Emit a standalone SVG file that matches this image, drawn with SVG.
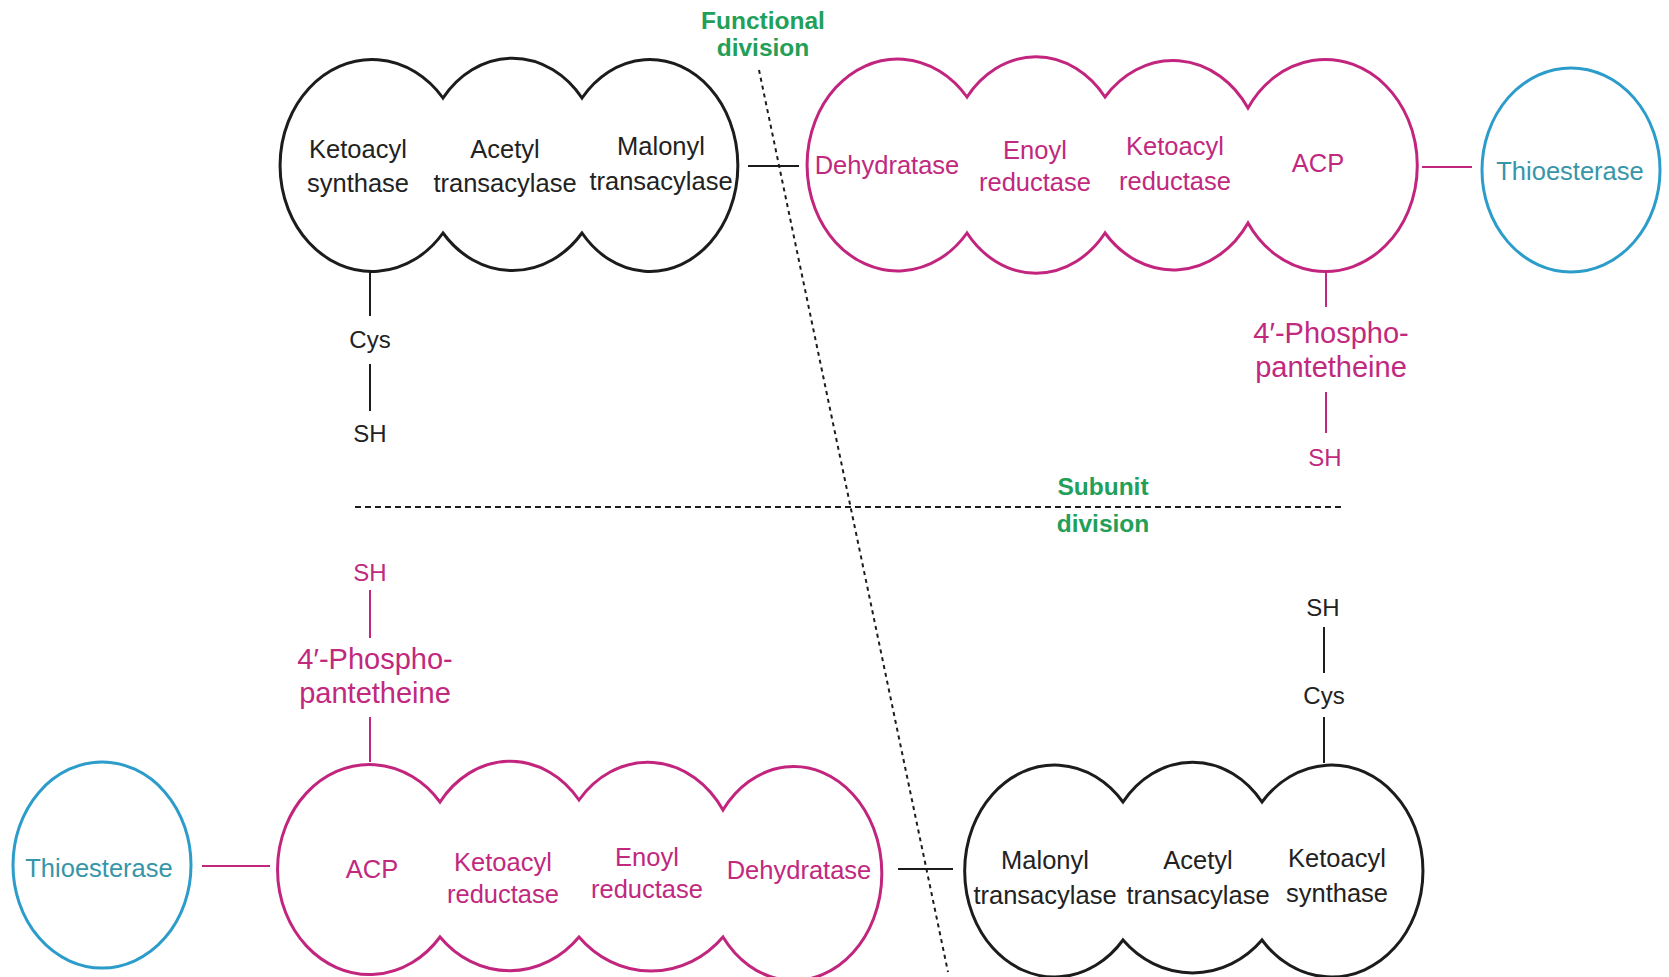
<svg xmlns="http://www.w3.org/2000/svg" width="1669" height="977" viewBox="0 0 1669 977">
<style>
text{font-family:"Liberation Sans",Arial,sans-serif;text-anchor:middle}
.lbl{font-size:25.5px}
.sm{font-size:24px}
.big{font-size:29px}
.grn{font-size:24.5px;font-weight:bold;fill:#22a05a}
.k{fill:#222222}
.p{fill:#c0297e}
.b{fill:#3795a9}
.blobk{fill:none;stroke:#1c1c1c;stroke-width:3}
.blobp{fill:none;stroke:#c2257d;stroke-width:3}
.thio{fill:none;stroke:#2c9ccb;stroke-width:3}
.ck{stroke:#1c1c1c;stroke-width:2;fill:none}
.cp{stroke:#c2257d;stroke-width:2;fill:none}
.dash{stroke:#1c1c1c;stroke-width:2;fill:none}
</style>
<rect width="1669" height="977" fill="#ffffff"/>

<g id="divisions">
<line class="dash" x1="759" y1="70" x2="948" y2="972" stroke-dasharray="4 4"/>
<line class="dash" x1="355" y1="507" x2="1345" y2="507" stroke-dasharray="6 4"/>
<text class="grn" x="763" y="29">Functional</text>
<text class="grn" x="763" y="56">division</text>
<text class="grn" x="1103" y="495">Subunit</text>
<text class="grn" x="1103" y="532">division</text>
</g>

<g id="connectors">
<line class="ck" x1="748" y1="166" x2="799" y2="166"/>
<line class="cp" x1="1422" y1="167" x2="1472" y2="167"/>
<line class="ck" x1="370" y1="271" x2="370" y2="316"/>
<line class="ck" x1="370" y1="364" x2="370" y2="411"/>
<line class="cp" x1="1326" y1="271" x2="1326" y2="307"/>
<line class="cp" x1="1326" y1="392" x2="1326" y2="433"/>
<line class="cp" x1="370" y1="590" x2="370" y2="638"/>
<line class="cp" x1="370" y1="717" x2="370" y2="762"/>
<line class="cp" x1="202" y1="866" x2="270" y2="866"/>
<line class="ck" x1="898" y1="869" x2="953" y2="869"/>
<line class="ck" x1="1324" y1="627" x2="1324" y2="673"/>
<line class="ck" x1="1324" y1="717" x2="1324" y2="763"/>
</g>

<g id="top-black-subunit">
<path class="blobk" d="M443,98 A89,106 0 0 1 582,98 A88,106 0 1 1 582,233 A91,106 0 0 1 443,233 A92,106 0 1 1 443,98 Z"/>
<text class="lbl k" x="358" y="158">Ketoacyl</text>
<text class="lbl k" x="358" y="192">synthase</text>
<text class="lbl k" x="505" y="158">Acetyl</text>
<text class="lbl k" x="505" y="192">transacylase</text>
<text class="lbl k" x="661" y="155">Malonyl</text>
<text class="lbl k" x="661" y="190">transacylase</text>
</g>

<g id="top-cys">
<text class="sm k" x="370" y="348">Cys</text>
<text class="sm k" x="370" y="442">SH</text>
</g>

<g id="top-pink-subunit">
<path class="blobp" d="M967,97 A88,106 0 0 1 1105,97 A90,106 0 0 1 1248,108 A92,106 0 1 1 1248,223 A90,106 0 0 1 1105,233 A88,106 0 0 1 967,233 A90.5,106 0 1 1 967,97 Z"/>
<text class="lbl p" x="887" y="174">Dehydratase</text>
<text class="lbl p" x="1035" y="159">Enoyl</text>
<text class="lbl p" x="1175" y="155">Ketoacyl</text>
<text class="lbl p" x="1035" y="191">reductase</text>
<text class="lbl p" x="1175" y="190">reductase</text>
<text class="lbl p" x="1318" y="172">ACP</text>
</g>

<g id="top-phosphopantetheine">
<text class="big p" x="1331" y="343">4′-Phospho-</text>
<text class="big p" x="1331" y="377">pantetheine</text>
<text class="sm p" x="1325" y="466">SH</text>
</g>

<g id="top-thioesterase">
<ellipse class="thio" cx="1571" cy="170" rx="89" ry="102"/>
<text class="lbl b" x="1570" y="180">Thioesterase</text>
</g>

<g id="bottom-phosphopantetheine">
<text class="sm p" x="370" y="581">SH</text>
<text class="big p" x="375" y="669">4′-Phospho-</text>
<text class="big p" x="375" y="703">pantetheine</text>
</g>

<g id="bottom-thioesterase">
<ellipse class="thio" cx="102" cy="865" rx="89" ry="103"/>
<text class="lbl b" x="99" y="877">Thioesterase</text>
</g>

<g id="bottom-pink-subunit">
<path class="blobp" d="M440,802 A89,106 0 0 1 579,800 A90,106 0 0 1 723,810 A88,107 0 1 1 723,937 A98,106 0 0 1 579,937 A95,106 0 0 1 440,937 A92,105 0 1 1 440,802 Z"/>
<text class="lbl p" x="372" y="878">ACP</text>
<text class="lbl p" x="503" y="871">Ketoacyl</text>
<text class="lbl p" x="503" y="903">reductase</text>
<text class="lbl p" x="647" y="866">Enoyl</text>
<text class="lbl p" x="647" y="898">reductase</text>
<text class="lbl p" x="799" y="879">Dehydratase</text>
</g>

<g id="bottom-black-subunit">
<path class="blobk" d="M1123,802 A89,106 0 0 1 1262,802 A91.5,106 0 1 1 1262,940 A96,106 0 0 1 1123,940 A90,106 0 1 1 1123,802 Z"/>
<text class="lbl k" x="1045" y="869">Malonyl</text>
<text class="lbl k" x="1045" y="904">transacylase</text>
<text class="lbl k" x="1198" y="869">Acetyl</text>
<text class="lbl k" x="1198" y="904">transacylase</text>
<text class="lbl k" x="1337" y="867">Ketoacyl</text>
<text class="lbl k" x="1337" y="902">synthase</text>
</g>

<g id="bottom-cys">
<text class="sm k" x="1323" y="616">SH</text>
<text class="sm k" x="1324" y="704">Cys</text>
</g>
</svg>
